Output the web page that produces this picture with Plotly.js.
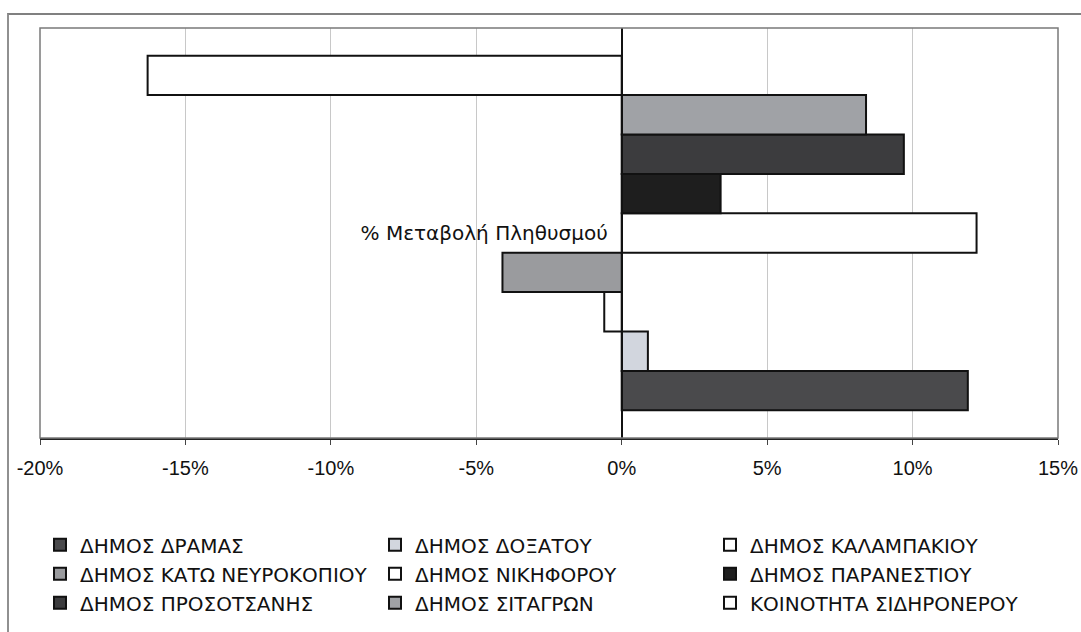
<!DOCTYPE html>
<html>
<head>
<meta charset="utf-8">
<script src="https://cdn.plot.ly/plotly-3.0.1.min.js"></script>
<style>
html,body{margin:0;padding:0;background:#fff;}
#wrap{position:relative;width:1081px;height:632px;overflow:hidden;}
#frame{position:absolute;left:7px;top:13px;width:1100px;height:700px;border-top:2px solid #808080;border-left:2px solid #909090;pointer-events:none;}
#chart{position:absolute;left:0;top:0;width:1081px;height:632px;}
</style>
</head>
<body>
<div id="wrap"><div id="chart"></div><div id="frame"></div></div>
<script>
const category = ["% Μεταβολή Πληθυσμού"];
const seriesNames = [
  "ΔΗΜΟΣ ΔΡΑΜΑΣ", "ΔΗΜΟΣ ΔΟΞΑΤΟΥ", "ΔΗΜΟΣ ΚΑΛΑΜΠΑΚΙΟΥ",
  "ΔΗΜΟΣ ΚΑΤΩ ΝΕΥΡΟΚΟΠΙΟΥ", "ΔΗΜΟΣ ΝΙΚΗΦΟΡΟΥ", "ΔΗΜΟΣ ΠΑΡΑΝΕΣΤΙΟΥ",
  "ΔΗΜΟΣ ΠΡΟΣΟΤΣΑΝΗΣ", "ΔΗΜΟΣ ΣΙΤΑΓΡΩΝ", "ΚΟΙΝΟΤΗΤΑ ΣΙΔΗΡΟΝΕΡΟΥ"
];
const seriesValues = [0.119, 0.009, -0.006, -0.041, 0.122, 0.034, 0.097, 0.084, -0.163];
const seriesColors = ["#4a4a4c", "#d2d6de", "#ffffff", "#9a9b9e", "#ffffff", "#1e1e1e", "#3c3c3e", "#a0a2a6", "#ffffff"];
const xTickVals = [-0.20, -0.15, -0.10, -0.05, 0, 0.05, 0.10, 0.15];
const xTickText = ["-20%", "-15%", "-10%", "-5%", "0%", "5%", "10%", "15%"];

const traces = seriesNames.map((name, i) => ({
  type: "bar",
  orientation: "h",
  name: name,
  y: category,
  x: [seriesValues[i]],
  marker: {color: seriesColors[i], line: {color: "#111111", width: 2}},
  hoverinfo: "name+x"
}));

const layout = {
  width: 1081, height: 632,
  margin: {l: 40, r: 23, t: 28, b: 194, autoexpand: false},
  paper_bgcolor: "#ffffff", plot_bgcolor: "#ffffff",
  font: {family: "Liberation Sans, Arial, sans-serif", color: "#111111"},
  barmode: "group",
  bargap: 0.135, bargroupgap: 0,
  showlegend: true,
  xaxis: {
    range: [-0.20, 0.15],
    tickvals: xTickVals, ticktext: xTickText,
    tickfont: {size: 20, color: "#111"},
    showgrid: true, gridcolor: "#c8c8c8", gridwidth: 1,
    zeroline: false,
    showline: true, linecolor: "#222", linewidth: 2,
    ticks: "outside", ticklen: 5, tickcolor: "#444",
    ticklabelstandoff: 6,
    automargin: false
  },
  yaxis: {
    anchor: "free", position: 20/35,
    showline: true, linecolor: "#111", linewidth: 2,
    showgrid: false, zeroline: false,
    ticks: "", tickfont: {size: 20, color: "#111", family: "DejaVu Sans, sans-serif"},
    ticklabelstandoff: 9,
    automargin: false
  },
  shapes: [
    {type: "rect", xref: "paper", yref: "paper", x0: 0, x1: 1, y0: 0, y1: 1,
     line: {color: "#7a7a7a", width: 1.5}, fillcolor: "rgba(0,0,0,0)", layer: "above"}
  ],
  legend: {
    orientation: "h", traceorder: "normal",
    x: 0, xanchor: "left", y: -0.213, yanchor: "top",
    entrywidth: 290, entrywidthmode: "pixels",
    font: {size: 20, color: "#111", family: "DejaVu Sans, sans-serif"},
    itemwidth: 30, tracegroupgap: 0,
    bgcolor: "rgba(0,0,0,0)"
  }
};

Plotly.newPlot("chart", traces, layout, {displayModeBar: false, staticPlot: true});
</script>
</body>
</html>
